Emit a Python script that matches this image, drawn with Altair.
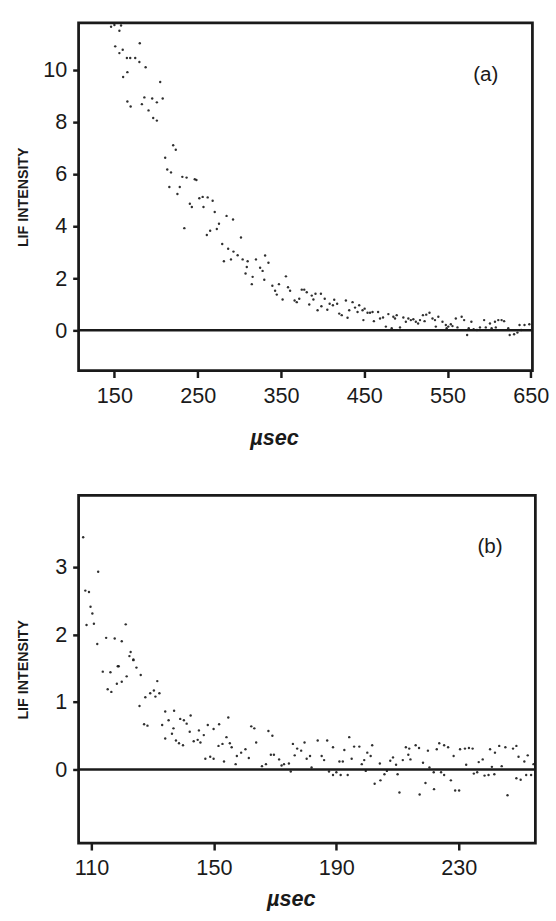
import altair as alt
import pandas as pd

# ---------------- panel (a) ----------------
a_x = [146, 150, 156, 158, 151, 160, 156, 165, 169, 175, 180.5, 180, 187.5, 165.6, 160.5, 205,
       165.6, 169.5, 186, 183, 195.4, 201, 208, 191, 196.6, 201, 220.6, 223.7, 211, 213.5,
       218, 231.6, 236.7, 246.5, 248.5, 216, 228.5, 225.7, 252, 256, 262, 268, 240.6, 243,
       257, 270.5, 284.7, 292.5, 275.6, 234, 273, 265, 261, 302, 279.5, 286.6, 293,
       281.5, 290, 298, 304, 310, 309, 320, 331, 335, 307.5, 316, 315, 328, 330, 325,
       339.7, 343, 345,
       347.6, 356, 352, 358.5, 361, 366.4, 369, 372, 375, 378, 381, 384, 387, 391.5, 398,
       389, 394, 398.6, 402.6, 405.7, 408.5, 412.4, 417.5, 414, 420, 423, 428, 430, 432,
       436, 439, 442, 444, 448, 450.5, 454, 449, 457, 460, 461.6, 466.7, 469, 472.6, 476,
       479, 483, 485, 489, 487, 493, 497, 500, 503, 506, 509, 512, 514.7, 517, 520.5,
       524.5, 528.4, 522.5, 532, 535, 539, 536, 544, 548, 551, 554, 556, 549, 560, 567,
       570, 562, 573.6, 575.5, 581.4, 585.4, 589, 578.7, 594, 601, 607, 611, 615, 618,
       596, 603, 608, 623, 624.7, 630, 634, 636.5, 642.5, 648.3, 638.5]
a_y = [11.65, 11.72, 11.5, 11.7, 10.9, 10.77, 10.64, 10.45, 10.45, 10.45, 11.02, 10.3, 10.1,
       9.91, 9.72, 9.53, 8.78, 8.59, 8.94, 8.68, 8.9, 8.75, 8.9, 8.44, 8.15, 8.05, 7.1,
       6.93, 6.62, 6.17, 6.06, 5.89, 5.86, 5.8, 5.77, 5.5, 5.5, 5.23, 5.07, 5.12, 5.1,
       4.97, 4.86, 4.73, 4.73, 4.54, 4.39, 4.25, 4.09, 3.92, 3.89, 3.82, 3.66, 3.56, 3.31,
       3.13, 3.02,
       2.65, 2.72, 2.88, 2.72, 2.65, 2.43, 2.72, 2.87, 2.59, 2.18, 2.05, 1.77, 2.28, 1.94,
       2.4, 1.71, 1.52, 1.37,
       1.77, 2.07, 1.18, 1.65, 1.52, 1.14, 1.08, 1.21, 1.56, 1.56, 1.46, 0.99, 1.33, 1.4,
       1.4, 1.18, 0.77, 0.92, 1.21, 0.79, 1.02, 0.96, 1.02, 1.17, 0.64, 0.58, 1.14, 0.48,
       0.77, 1.08, 0.87, 0.7, 0.96, 0.77, 0.83, 0.67, 0.39, 0.67, 0.7, 0.35, 0.7, 0.45,
       0.49, 0.14, 0.62, 0.08, 0.52, 0.58, 0.45, 0.11, 0.49, 0.33, 0.45, 0.39, 0.42, 0.33,
       0.26, 0.39, 0.58, 0.6, 0.67, 0.35, 0.45, 0.39, 0.52, 0.14, 0.33, 0.2, 0.14, 0.23,
       0.16, 0.08, 0.45, 0.52, 0.39, 0.11, -0.18, 0.08, 0.04, 0.01, 0.11, 0.33, 0.39, 0.26,
       0.33, 0.39, 0.39, 0.35, 0.11, 0.08, 0.11, 0.08, -0.18, -0.15, -0.09, 0.2, 0.2, 0.23,
       0.01]
a_ticks_x = [150, 250, 350, 450, 550, 650]
a_ticks_y = [0, 2, 4, 6, 8, 10]
a_label = ["(a)"]
a_label_x = [596]
a_label_y = [9.8]

# ---------------- panel (b) ----------------
b_x = [107.3, 112.2, 108, 109.2, 109.7, 110.3, 108.4, 110.8, 121.2, 111.9, 114.8, 117.6, 119.9,
       122.8, 122.4, 123.7, 118.9, 124.7,
       113.7, 116.2, 118.6, 123.7, 126.1, 115.3, 116.5, 118.3, 119.9, 121.5, 131.5, 127.6,
       129.2, 130.4, 130.9, 132.2, 125.7, 127.2, 128.3, 133.1, 134.1, 135.2, 137, 136.8,
       134.1, 136.3, 137.6, 138.6, 139.9, 139, 140.2, 141.1, 142.4, 142.1, 143.4, 144.7,
       145.6, 145.1, 146.7, 148, 149.9, 151.7, 154.7, 147.2, 148.8, 149.9, 151.5, 152.8,
       154.1, 155.2, 155.8, 153.3, 157.1, 157.5, 158.9, 160.3, 161.4, 162.2, 163.2, 163.8,
       165.7, 167, 167.8, 169.1, 168.6,
       169.6, 171.3, 172.9, 174.5, 172.1, 175.1, 175.8, 177.2, 178.5, 179.6, 176.4, 180.3,
       181.4, 181.9, 183.9, 185.2, 186, 187, 188.9, 187.6, 188.9, 191.4, 193.7, 190, 191,
       192.1, 192.6, 194.2, 195, 195.8, 197.5, 198.3, 199.1, 200.1, 199.6, 201.7, 201.2,
       202.5, 204.4, 204.2, 205.7, 206.5, 207.6, 208.5, 209.5, 210, 210.6, 211.7, 212.7,
       213.8, 213.5, 214.2, 215.9, 217, 217.2, 218.3, 219.1, 219.9, 220.4, 221.8, 221.9,
       222.8, 223.6, 225.2, 226.5, 224.2, 225.2, 227.4, 228.3, 228.8, 230.1, 230.4, 232,
       233.3, 234.5, 232.4, 234.9, 236, 236.5, 237.8, 238.4, 239.7, 241.6, 240.2, 241.8,
       243.2, 245.2, 247.7, 248.8, 244, 240.8, 245.9, 248.8, 250.2, 249.5, 252.5, 251.4,
       252, 253.6, 254.4]
b_y = [3.44, 2.93, 2.65, 2.63, 2.41, 2.31, 2.14, 2.16, 2.15, 1.86, 1.95, 1.94, 1.9, 1.74, 1.68,
       1.63, 1.53, 1.51,
       1.45, 1.44, 1.53, 1.62, 1.4, 1.19, 1.15, 1.27, 1.3, 1.38, 1.31, 1.07, 1.13, 1.17,
       1.08, 1.13, 0.94, 0.67, 0.65, 0.66, 0.86, 0.73, 0.87, 0.61, 0.46, 0.53, 0.43, 0.39,
       0.36, 0.75, 0.73, 0.68, 0.8, 0.56, 0.42, 0.44, 0.4, 0.58, 0.51, 0.66, 0.6, 0.67,
       0.77, 0.16, 0.19, 0.16, 0.35, 0.38, 0.48, 0.39, 0.33, 0.12, 0.08, 0.2, 0.25, 0.3,
       0.17, 0.64, 0.61, 0.4, 0.05, 0.08, 0.57, 0.5, 0.22,
       0.22, 0.15, 0.08, 0.09, 0.06, -0.03, 0.38, 0.31, 0.28, 0.4, 0.21, 0.16, 0.2, 0.03,
       0.43, 0.2, 0.14, 0.43, 0.33, -0.03, -0.08, -0.08, -0.08, -0.04, 0.12, 0.12, 0.29,
       0.48, 0.16, 0.34, 0.34, 0.08, 0.14, 0.25, -0.02, 0.36, 0.2, -0.21, -0.16, 0.09,
       -0.07, -0.02, 0.13, 0.18, 0.07, -0.07, -0.34, 0.14, 0.33, 0.31, 0.22, 0.15, 0.36,
       0.32, -0.37, 0.1, -0.2, 0.28, 0.03, -0.04, -0.29, 0.3, 0.39, 0.36, 0.33, -0.04,
       -0.08, -0.16, 0.2, -0.31, -0.31, 0.3, 0.31, 0.32, 0.31, 0.07, -0.06, -0.04, 0.11,
       0.15, -0.09, -0.08, -0.07, 0.3, 0.25, 0.35, 0.33, 0.31, 0.35, 0.05, 0.04, -0.38,
       -0.13, -0.15, 0.19, 0.21, 0.12, -0.08, -0.08, 0.08]
b_ticks_x = [110, 150, 190, 230]
b_ticks_y = [0, 1, 2, 3]
b_label = ["(b)"]
b_label_x = [240.2]
b_label_y = [3.3]

x_title = "\u00b5sec"
y_title = "LIF  INTENSITY"

FONT = "Liberation Sans"
INK = "#1a1a1a"


def panel(xs, ys, xdom, ydom, xt, yt, lab, lx, ly, w, h, title_x, title_y):
    df = pd.DataFrame({"t": xs, "v": ys})
    xsc = alt.Scale(domain=xdom, nice=False, zero=False)
    ysc = alt.Scale(domain=ydom, nice=False, zero=False)
    xax = alt.Axis(values=xt, format="d", title=x_title, grid=False, domain=False,
                   tickColor=INK, tickWidth=2.5, tickSize=7, labelPadding=8,
                   labelFont=FONT, labelFontSize=22, labelColor=INK,
                   titleFont=FONT, titleFontSize=22, titleFontStyle="italic",
                   titleFontWeight="bold", titleColor=INK,
                   titleX=title_x, titleY=title_y, titleAlign="center",
                   titleBaseline="alphabetic")
    yax = alt.Axis(values=yt, format="d", title=y_title, grid=False, domain=False,
                   tickColor=INK, tickWidth=2.5, tickSize=6, labelPadding=6,
                   labelFont=FONT, labelFontSize=22, labelColor=INK,
                   titleFont=FONT, titleFontSize=14.5, titleFontWeight="bold",
                   titleColor=INK, titleX=-56, titleY=h / 2,
                   titleAlign="center", titleBaseline="middle", titleAngle=270)
    pts = alt.Chart(df).mark_circle(size=6, color=INK, opacity=0.9, clip=True).encode(
        x=alt.X("t:Q", scale=xsc, axis=xax),
        y=alt.Y("v:Q", scale=ysc, axis=yax),
    )
    zero = alt.Chart(pd.DataFrame({"v": [0]})).mark_rule(color=INK, strokeWidth=2.4).encode(
        y=alt.Y("v:Q", scale=ysc)
    )
    txt = alt.Chart(pd.DataFrame({"t": lx, "v": ly, "s": lab})).mark_text(
        font=FONT, fontSize=21, color=INK, align="center", baseline="middle"
    ).encode(x=alt.X("t:Q", scale=xsc), y=alt.Y("v:Q", scale=ysc), text="s:N")
    return alt.layer(pts, zero, txt).properties(width=w, height=h)


top = panel(a_x, a_y, [107, 652], [-1.55, 11.8], a_ticks_x, a_ticks_y,
            a_label, a_label_x, a_label_y, 462, 354, 199, 75)
bottom = panel(b_x, b_y, [105.8, 255], [-1.09, 4.06], b_ticks_x, b_ticks_y,
               b_label, b_label_x, b_label_y, 465, 354, 216, 63)

chart = alt.vconcat(top, bottom, spacing=44).properties(
    padding={"left": 14, "top": 13, "right": 5, "bottom": 5},
    background="white",
).configure_view(stroke=INK, strokeWidth=2.8)

chart.save("out.html", embed_options={"renderer": "svg", "actions": False})
